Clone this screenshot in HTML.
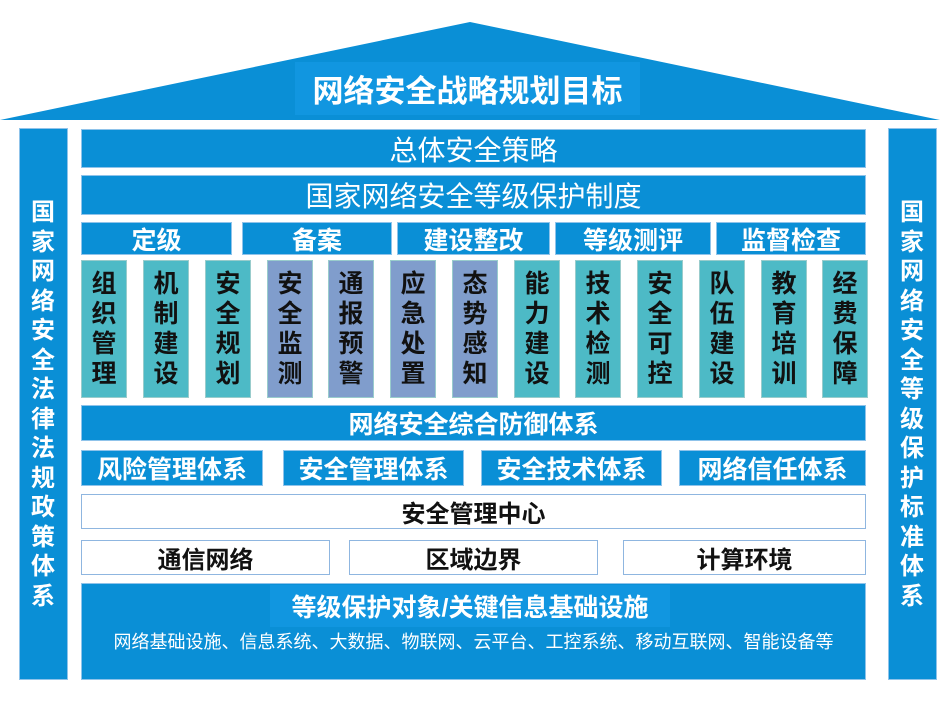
<!DOCTYPE html><html><head><meta charset="utf-8"><style>
body{margin:0;width:940px;height:705px;background:#fff;position:relative;overflow:hidden;font-family:"Liberation Sans","Noto Sans CJK SC",sans-serif;}
.b{position:absolute;background:#0a8fd6;color:#fff;display:flex;align-items:center;justify-content:center;box-sizing:border-box;border:1px solid #8fc3ea;}
.w{position:absolute;background:#fff;color:#111;display:flex;align-items:center;justify-content:center;box-sizing:border-box;border:1.5px solid #8fb6e0;font-weight:bold;font-size:24px;}
.c{position:absolute;top:260px;height:138px;width:46px;color:#111;font-weight:bold;font-size:25px;line-height:30px;text-align:center;display:flex;align-items:center;justify-content:center;box-sizing:border-box;border:1px solid #9cc;}
.t{background:#4dbac6}.p{background:#809dcc}
.v{position:absolute;color:#fff;font-weight:bold;font-size:24px;line-height:29.5px;text-align:center;width:48px;}
.h{font-size:25px;font-weight:bold}
</style></head><body>
<svg style="position:absolute;left:0;top:0" width="940" height="125"><polygon points="0,120 470,22 940,120" fill="#0a8fd6"/></svg>
<div class="b" style="left:295px;top:62px;width:345px;height:53px;background:#1196e0;border:none;font-size:31px;font-weight:bold">网络安全战略规划目标</div>
<div class="b" style="left:19px;top:128px;width:49px;height:552px"></div>
<div class="v" style="left:19px;top:198px">国<br>家<br>网<br>络<br>安<br>全<br>法<br>律<br>法<br>规<br>政<br>策<br>体<br>系</div>
<div class="b" style="left:888px;top:128px;width:49px;height:552px"></div>
<div class="v" style="left:888px;top:198px">国<br>家<br>网<br>络<br>安<br>全<br>等<br>级<br>保<br>护<br>标<br>准<br>体<br>系</div>
<div class="b" style="left:81px;top:129px;width:785px;height:39px;font-size:28px">总体安全策略</div>
<div class="b" style="left:81px;top:175px;width:785px;height:40px;font-size:28px">国家网络安全等级保护制度</div>
<div class="b h" style="left:81px;top:222px;width:151px;height:33px">定级</div>
<div class="b h" style="left:242px;top:222px;width:150px;height:33px">备案</div>
<div class="b h" style="left:397px;top:222px;width:153px;height:33px">建设整改</div>
<div class="b h" style="left:555px;top:222px;width:156px;height:33px">等级测评</div>
<div class="b h" style="left:716px;top:222px;width:150px;height:33px">监督检查</div>
<div class="c t" style="left:81px">组<br>织<br>管<br>理</div>
<div class="c t" style="left:143px">机<br>制<br>建<br>设</div>
<div class="c t" style="left:205px">安<br>全<br>规<br>划</div>
<div class="c p" style="left:267px">安<br>全<br>监<br>测</div>
<div class="c p" style="left:328px">通<br>报<br>预<br>警</div>
<div class="c p" style="left:390px">应<br>急<br>处<br>置</div>
<div class="c p" style="left:452px">态<br>势<br>感<br>知</div>
<div class="c t" style="left:514px">能<br>力<br>建<br>设</div>
<div class="c t" style="left:575px">技<br>术<br>检<br>测</div>
<div class="c t" style="left:637px">安<br>全<br>可<br>控</div>
<div class="c t" style="left:699px">队<br>伍<br>建<br>设</div>
<div class="c t" style="left:761px">教<br>育<br>培<br>训</div>
<div class="c t" style="left:822px">经<br>费<br>保<br>障</div>
<div class="b h" style="left:81px;top:405px;width:785px;height:36px">网络安全综合防御体系</div>
<div class="b h" style="left:81px;top:450px;width:182px;height:36px">风险管理体系</div>
<div class="b h" style="left:283px;top:450px;width:181px;height:36px">安全管理体系</div>
<div class="b h" style="left:481px;top:450px;width:181px;height:36px">安全技术体系</div>
<div class="b h" style="left:679px;top:450px;width:187px;height:36px">网络信任体系</div>
<div class="w" style="left:81px;top:494px;width:785px;height:35px">安全管理中心</div>
<div class="w" style="left:81px;top:540px;width:249px;height:35px">通信网络</div>
<div class="w" style="left:349px;top:540px;width:249px;height:35px">区域边界</div>
<div class="w" style="left:623px;top:540px;width:243px;height:35px">计算环境</div>
<div class="b" style="left:81px;top:583px;width:785px;height:97px"></div>
<div class="b" style="left:270px;top:585px;width:400px;height:42px;background:#1196e0;border:none;font-size:25px;font-weight:bold">等级保护对象/关键信息基础设施</div>
<div style="position:absolute;left:81px;top:628px;width:785px;text-align:center;color:#fff;font-size:18px;line-height:28px">网络基础设施、信息系统、大数据、物联网、云平台、工控系统、移动互联网、智能设备等</div>
</body></html>
